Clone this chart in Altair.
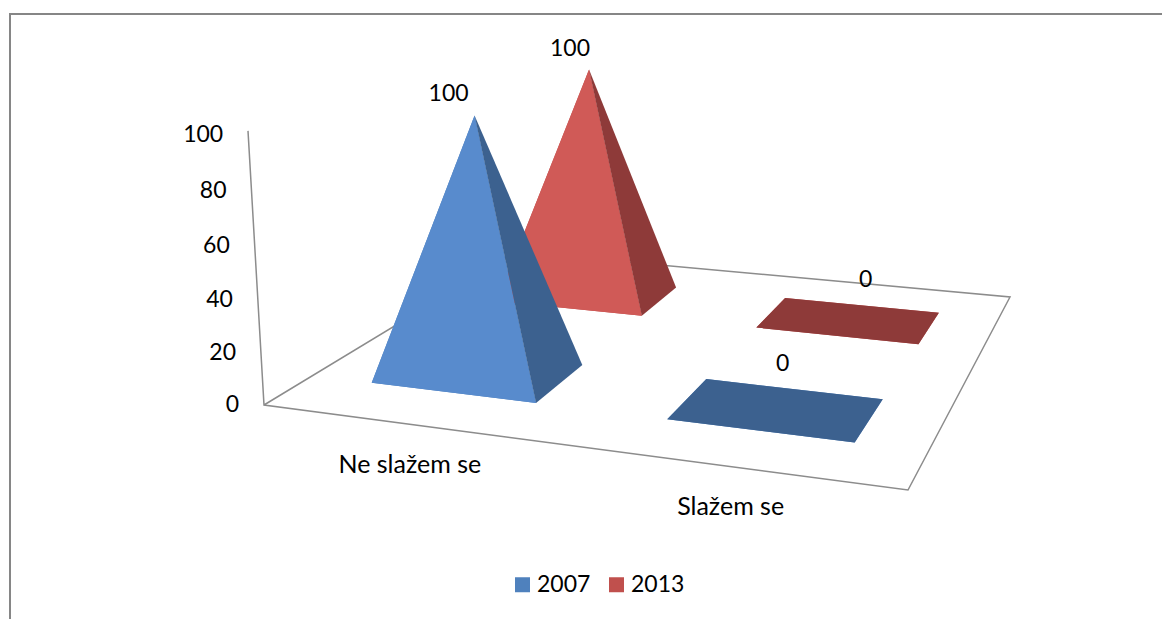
import numpy as np
import altair as alt

# ---- data
categories = ["Ne slažem se", "Slažem se"]
series_names = ["2007", "2013"]
values_2007 = [100, 0]
values_2013 = [100, 0]
value_ticks = [0, 20, 40, 60, 80, 100]

# ---- styles
legend_colors = ["#4f81bd", "#c0504d"]
face_colors = {"2007": "#588bcd", "2013": "#d05a57"}
side_colors = {"2007": "#3c618f", "2013": "#8e3a39"}
LINE = "#8c8c8c"
FONT = "Lato"
FS = 23
FS_CAT = 25

# ---- scene: a projective camera (u across categories, v across series, h = value)
floor_px = [(264, 405), (908, 490), (1010, 297), (517, 252)]
floor_uv = [(0, 0), (2, 0), (2, 2), (0, 2)]
VP = (555.0, 5390.0)          # vanishing point of the vertical direction
K = -0.0005145                # perspective strength per value unit
WALL_TOP = 101.3
U0, U1 = 0.215, 0.787         # column footprint within a cell
V0, V1 = 0.305, 0.705

A, b = [], []
for (u, v), (x, y) in zip(floor_uv, floor_px):
    A.append([u, v, 1, 0, 0, 0, -u * x, -v * x]); b.append(x)
    A.append([0, 0, 0, u, v, 1, -u * y, -v * y]); b.append(y)
H = np.append(np.linalg.solve(np.array(A, float), np.array(b, float)), 1).reshape(3, 3)


def proj(u, v, h=0.0, dx=0.0, dy=0.0):
    p = H @ np.array([u, v, 1.0])
    t = K * h
    w = p[2] + t
    # chart coordinates: page margin of 8px removed
    return [float((p[0] + t * VP[0]) / w + dx - 8), float((p[1] + t * VP[1]) / w + dy - 8)]


def poly(points, **props):
    ring = points + [points[0]]
    return {"type": "Feature", "properties": props,
            "geometry": {"type": "Polygon", "coordinates": [ring]}}


def line(points, **props):
    return {"type": "Feature", "properties": props,
            "geometry": {"type": "LineString", "coordinates": points}}


series_values = {"2007": values_2007, "2013": values_2013}
legend_faces, faces = [], []
# far series first, so that nearer columns cover it
for j, s in reversed(list(enumerate(series_names))):
    for i, val in enumerate(series_values[s]):
        fl = proj(i + U0, j + V0)
        fr = proj(i + U1, j + V0)
        br = proj(i + U1, j + V1)
        bl = proj(i + U0, j + V1)
        if val > 0:
            apex = proj(i + (U0 + U1) / 2, j + (V0 + V1) / 2, val)
            legend_faces.append(poly([fl, fr, apex], series=s))
            faces.append(poly([fl, fr, apex], fill=face_colors[s]))
            faces.append(poly([fr, br, apex], fill=side_colors[s]))
        else:
            legend_faces.append(poly([fl, fr, br, bl], series=s))
            faces.append(poly([fl, fr, br, bl], fill=side_colors[s]))

frame = [line([[2, 611], [2, 6], [1154, 6]])]
floor = [line([proj(0, 0, WALL_TOP), proj(0, 0), proj(2, 0), proj(2, 2), proj(0, 2), proj(0, 0)])]

# text labels
label_offsets = {("2007", 0): (-26, -22), ("2013", 0): (-19, -21),
                 ("2007", 1): (6, -45), ("2013", 1): (17, -40)}
texts = []
for t_ in value_ticks:
    x, y = proj(0, 0, t_, -25, 0)
    texts.append({"x": x, "y": y, "t": str(t_), "a": "right"})
cats = []
for i, c in enumerate(categories):
    x, y = proj(i + 0.5, 0, 0, 1, 41)
    cats.append({"x": x, "y": y, "t": c})
for j, s in enumerate(series_names):
    for i, val in enumerate(series_values[s]):
        ox, oy = label_offsets[(s, i)]
        x, y = proj(i + (U0 + U1) / 2, j + (V0 + V1) / 2, val, ox, oy)
        texts.append({"x": x, "y": y, "t": str(val), "a": "center"})

PROJ = dict(type="identity", scale=1, translate=[0, 0])


def shapes(feats):
    return alt.Chart(alt.Data(values=feats)).project(**PROJ)


frame_l = shapes(frame).mark_geoshape(filled=False, stroke="#868686", strokeWidth=2)
floor_l = shapes(floor).mark_geoshape(filled=False, stroke=LINE, strokeWidth=1.5)
legend_l = shapes(legend_faces).mark_geoshape(strokeWidth=0).encode(
    color=alt.Color(
        "properties.series:N",
        scale=alt.Scale(domain=series_names, range=legend_colors),
        legend=alt.Legend(
            title=None, orient="none", legendX=503, legendY=565, direction="horizontal",
            columns=2, symbolType="square", symbolSize=225, symbolStrokeWidth=0,
            labelFont=FONT, labelFontSize=FS, labelColor="#000000", columnPadding=14,
            symbolOffset=0, padding=0, labelOffset=3,
        ),
    )
)
faces_l = shapes(faces).mark_geoshape(strokeWidth=0).encode(
    fill=alt.Fill("properties.fill:N", scale=None)
)
text_l = alt.Chart(alt.Data(values=[d for d in texts if d["a"] == "center"])).project(**PROJ).mark_text(
    font=FONT, fontSize=FS, color="#000000", align="center", baseline="middle"
).encode(longitude="x:Q", latitude="y:Q", text="t:N")
tick_l = alt.Chart(alt.Data(values=[d for d in texts if d["a"] == "right"])).project(**PROJ).mark_text(
    font=FONT, fontSize=FS, color="#000000", align="right", baseline="middle"
).encode(longitude="x:Q", latitude="y:Q", text="t:N")
cat_l = alt.Chart(alt.Data(values=cats)).project(**PROJ).mark_text(
    font=FONT, fontSize=FS_CAT, color="#000000", align="center", baseline="middle"
).encode(longitude="x:Q", latitude="y:Q", text="t:N")

chart = (
    alt.layer(frame_l, floor_l, legend_l, faces_l, tick_l, text_l, cat_l)
    .properties(width=1154, height=611, padding=0, background="#ffffff", autosize=alt.AutoSizeParams(type="none"))
    .configure_view(stroke=None)
)
chart.save("out.html", embed_options={"renderer": "svg", "actions": False})
